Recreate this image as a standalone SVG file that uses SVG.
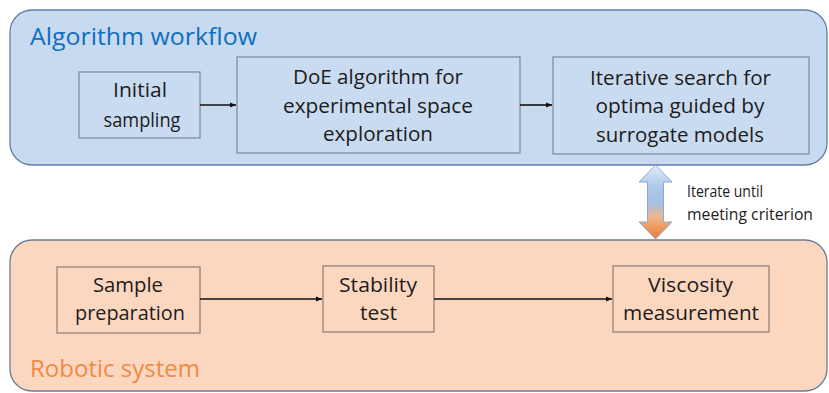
<svg xmlns="http://www.w3.org/2000/svg" width="829" height="393" viewBox="0 0 829 393">
<style>
.panelA{fill:#c8daf0;stroke:#5f7fab;stroke-width:1.3}
.panelB{fill:#fcd7c0;stroke:#6b7c98;stroke-width:1.3}
.boxA{fill:#c9dbf0;stroke:#7d8794;stroke-width:1.2}
.boxB{fill:#fcd7c0;stroke:#8a7c74;stroke-width:1.2}
.t{font-family:"Open Sans","Liberation Sans",sans-serif;font-size:20.5px;fill:#1c1c1c;text-anchor:middle}
.title{font-family:"Open Sans","Liberation Sans",sans-serif;font-size:24px}
.small{font-family:"Open Sans","Liberation Sans",sans-serif;font-size:15.5px;fill:#1c1c1c}
.conn{stroke:#111;stroke-width:1.6;fill:none}
</style>
<defs>
<marker id="ah" markerWidth="8" markerHeight="8" refX="6" refY="4" orient="auto" markerUnits="userSpaceOnUse">
<path d="M0,1.5 L6,4 L0,6.5 Z" fill="#111"/>
</marker>
<linearGradient id="dg" x1="0" y1="165" x2="0" y2="239" gradientUnits="userSpaceOnUse">
<stop offset="0" stop-color="#e2ecf7"/>
<stop offset="0.3" stop-color="#abc8e8"/>
<stop offset="0.52" stop-color="#a3c1e4"/>
<stop offset="0.7" stop-color="#f1b58c"/>
<stop offset="1" stop-color="#ec7c30"/>
</linearGradient>
</defs>
<g id="panel-algorithm">
<rect class="panelA" x="10" y="10" width="817" height="155" rx="22"/>
<text class="title" x="30" y="45" fill="#0f6fbf" textLength="227" lengthAdjust="spacingAndGlyphs">Algorithm workflow</text>
</g>
<g id="panel-robotic">
<rect class="panelB" x="10" y="240" width="817" height="151" rx="22"/>
<text class="title" x="30" y="377" fill="#ee8a45" textLength="170" lengthAdjust="spacingAndGlyphs">Robotic system</text>
</g>
<g id="node-initial">
<rect class="boxA" x="79" y="72" width="121" height="66"/>
<text class="t" x="140" y="97" textLength="54" lengthAdjust="spacingAndGlyphs">Initial</text>
<text class="t" x="142" y="127" textLength="77" lengthAdjust="spacingAndGlyphs">sampling</text>
</g>
<g id="node-doe">
<rect class="boxA" x="237" y="57" width="283" height="96"/>
<text class="t" x="378" y="84" textLength="170" lengthAdjust="spacingAndGlyphs">DoE algorithm for</text>
<text class="t" x="378" y="112.5" textLength="190" lengthAdjust="spacingAndGlyphs">experimental space</text>
<text class="t" x="378" y="141" textLength="110" lengthAdjust="spacingAndGlyphs">exploration</text>
</g>
<g id="node-iterative">
<rect class="boxA" x="553" y="57" width="256" height="97"/>
<text class="t" x="680.5" y="84.5" textLength="181" lengthAdjust="spacingAndGlyphs">Iterative search for</text>
<text class="t" x="680" y="113" textLength="169" lengthAdjust="spacingAndGlyphs">optima guided by</text>
<text class="t" x="680" y="141.5" textLength="168" lengthAdjust="spacingAndGlyphs">surrogate models</text>
</g>
<g id="node-sample">
<rect class="boxB" x="57" y="267" width="143" height="66"/>
<text class="t" x="128" y="292" textLength="70" lengthAdjust="spacingAndGlyphs">Sample</text>
<text class="t" x="130" y="320" textLength="110" lengthAdjust="spacingAndGlyphs">preparation</text>
</g>
<g id="node-stability">
<rect class="boxB" x="323" y="266" width="111" height="66"/>
<text class="t" x="378" y="292" textLength="78" lengthAdjust="spacingAndGlyphs">Stability</text>
<text class="t" x="378.5" y="320" textLength="37" lengthAdjust="spacingAndGlyphs">test</text>
</g>
<g id="node-viscosity">
<rect class="boxB" x="613" y="266" width="156" height="66"/>
<text class="t" x="690.5" y="292" textLength="85" lengthAdjust="spacingAndGlyphs">Viscosity</text>
<text class="t" x="691" y="320" textLength="136" lengthAdjust="spacingAndGlyphs">measurement</text>
</g>
<g id="connectors">
<line class="conn" x1="200" y1="105" x2="236" y2="105" marker-end="url(#ah)"/>
<line class="conn" x1="520" y1="105" x2="552" y2="105" marker-end="url(#ah)"/>
<line class="conn" x1="200" y1="299" x2="322" y2="299" marker-end="url(#ah)"/>
<line class="conn" x1="434" y1="299" x2="612" y2="299" marker-end="url(#ah)"/>
<g id="iterate-arrow">
<path d="M655.5,165 L672,182 L663.5,182 L663.5,222 L672,222 L655.5,239 L639,222 L647.5,222 L647.5,182 L639,182 Z" fill="url(#dg)" stroke="#8da9d2" stroke-width="1"/>
<text class="small" x="687" y="197" textLength="76" lengthAdjust="spacingAndGlyphs">Iterate until</text>
<text class="small" x="687" y="220" textLength="126" lengthAdjust="spacingAndGlyphs">meeting criterion</text>
</g>
</g>
</svg>
